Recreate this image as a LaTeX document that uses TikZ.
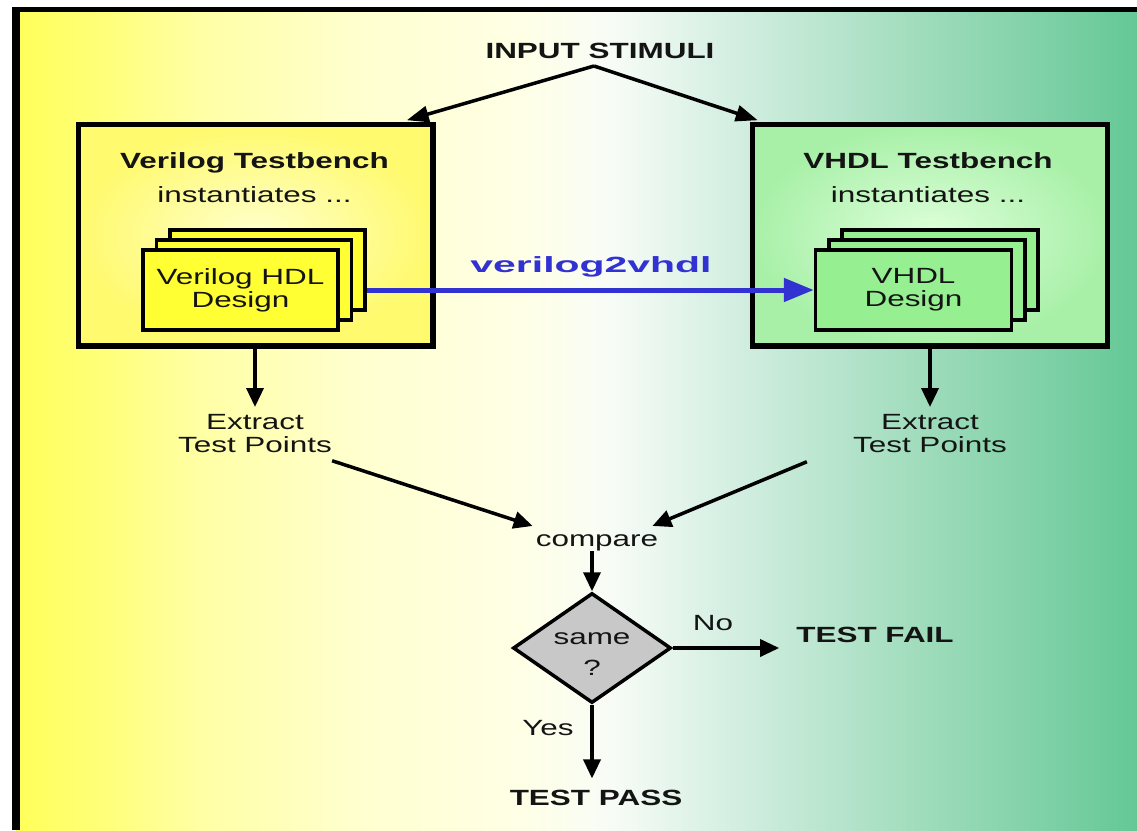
\documentclass[tikz,border=0pt]{standalone}
\usepackage{fontspec}
\setmainfont{Liberation Sans}[FakeStretch=1.43]
\newfontfamily\widefont{Liberation Sans}[FakeStretch=1.86]
\usetikzlibrary{arrows.meta,shapes.geometric}
\definecolor{ink}{RGB}{20,20,20}
\definecolor{bgA}{RGB}{255,255,90}
\definecolor{bgB}{RGB}{255,255,120}
\definecolor{bgC}{RGB}{255,255,165}
\definecolor{bgD}{RGB}{255,255,205}
\definecolor{bgE}{RGB}{255,255,230}
\definecolor{bgF}{RGB}{248,252,246}
\definecolor{bgG}{RGB}{215,240,228}
\definecolor{bgH}{RGB}{165,222,192}
\definecolor{bgI}{RGB}{125,208,165}
\definecolor{bgJ}{RGB}{100,200,150}
\definecolor{ylwIn}{RGB}{255,255,205}
\definecolor{ylwOut}{RGB}{255,250,110}
\definecolor{grnIn}{RGB}{222,255,218}
\definecolor{grnOut}{RGB}{168,240,168}
\definecolor{cardY}{RGB}{255,255,51}
\definecolor{cardG}{RGB}{150,240,145}
\definecolor{diaGray}{RGB}{200,200,200}
\definecolor{convBlue}{RGB}{50,50,210}
\pgfdeclarehorizontalshading{bgshade}{100bp}{color(0bp)=(bgA); color(25bp)=(bgA); color(28.75bp)=(bgB); color(33.21bp)=(bgC); color(39.9bp)=(bgD); color(47.48bp)=(bgE); color(51.49bp)=(bgF); color(56.4bp)=(bgG); color(64.43bp)=(bgH); color(71.12bp)=(bgI); color(75bp)=(bgJ); color(100bp)=(bgJ)}
\tikzset{
  txt/.style={inner sep=0pt, text=ink, font=\fontsize{22}{23}\selectfont},
  btxt/.style={inner sep=0pt, text=ink, font=\fontsize{22}{23}\selectfont\bfseries},
  tbox/.style={draw=black, line width=3.5pt, minimum width=353pt, minimum height=220pt, inner sep=0pt},
  cardbox/.style={draw=black, line width=3.5pt, minimum width=195pt, minimum height=80pt, inner sep=0pt},
  arr/.style={draw=black, line width=3.5pt, -{Triangle[length=19pt,width=17pt]}},
  barr/.style={draw=convBlue, line width=5pt, -{Triangle[length=30pt,width=23pt]}},
}
\begin{document}
\begin{tikzpicture}[x=1pt,y=-1pt]
\useasboundingbox (0,0) rectangle (1137,830);
\fill[white] (0,0) rectangle (1137,830);
\shade[shading=bgshade] (16,10) rectangle (1137,830);
\draw[line width=5pt] (12,9.5) -- (1137,9.5);
\draw[line width=8pt] (16,7) -- (16,830);

% testbench boxes
\node[tbox, inner color=ylwIn, outer color=ylwOut] (vtb) at (255.5,235) {};
\node[tbox, inner color=grnIn, outer color=grnOut] (htb) at (930,235) {};
\draw[line width=3.5pt] (vtb.north west) rectangle (vtb.south east);
\draw[line width=3.5pt] (htb.north west) rectangle (htb.south east);

\node[btxt, anchor=base] (vtbT) at (254.5,168) {Verilog Testbench};
\node[txt, anchor=base] (vtbI) at (254.5,202) {instantiates ...};
\node[btxt, anchor=base] (htbT) at (928,168) {VHDL Testbench};
\node[txt, anchor=base] (htbI) at (928,202) {instantiates ...};

% stacked cards
\node[cardbox, fill=cardY] (vc3) at (267.5,270) {};
\node[cardbox, fill=cardY] (vc2) at (254,280) {};
\node[cardbox, fill=cardY, align=center, txt] (vc1) at (240.5,290) {Verilog HDL\\Design};
\node[cardbox, fill=cardG, minimum width=196pt] (hc3) at (940,270) {};
\node[cardbox, fill=cardG, minimum width=196pt] (hc2) at (927,280) {};
\node[cardbox, fill=cardG, minimum width=196pt, align=center, txt] (hc1) at (913.5,290) {VHDL\\Design};

% conversion arrow
\draw[barr] (vc3.east |- vc1.east) -- (hc1.west);
\node[inner sep=0pt, text=convBlue, font=\widefont\fontsize{22}{23}\selectfont\bfseries, anchor=base] (v2v) at (591,272) {verilog2vhdl};

% input stimuli
\node[btxt, anchor=base] (stim) at (600,58) {INPUT STIMULI};
\coordinate (apex) at (594,66);
\draw[arr, -{Triangle[length=22pt,width=16pt]}] (apex) -- ([xshift=-27pt,yshift=3pt]vtb.north east);
\draw[arr, -{Triangle[length=22pt,width=16pt]}] (apex) -- ([xshift=6pt,yshift=3pt]htb.north west);

% extract
\node[txt, align=center, anchor=north] (exL) at (255,414) {Extract\\Test Points};
\node[txt, align=center, anchor=north] (exR) at (930,414) {Extract\\Test Points};
\draw[arr, shorten >=7pt] (vtb.south -| exL.north) -- (exL.north);
\draw[arr, shorten >=7pt] (htb.south -| exR.north) -- (exR.north);

% compare
\node[txt, anchor=base] (cmp) at (597,546) {compare};
\draw[arr] ([yshift=-8pt]exL.south east) -- ([xshift=-3pt,yshift=8pt]cmp.north west);
\draw[arr] ([xshift=-46pt,yshift=-9pt]exR.south west) -- ([xshift=-6pt,yshift=8pt]cmp.north east);

% decision
\node[diamond, draw=black, line width=3.5pt, fill=diaGray, minimum width=158pt, minimum height=110pt, inner sep=0pt] (dia) at (592,648) {};
\node[txt, anchor=base] (same) at (592,644) {same};
\node[txt, anchor=base] (qm) at (592,675) {?};
\draw[arr] (dia.north |- cmp.south) -- (dia.north);

\node[btxt, anchor=base] (fail) at (875,642) {TEST FAIL};
\node[txt, anchor=base] (no) at (713,630) {No};
\draw[arr, shorten >=17pt] (dia.east) -- (fail.west |- dia.east);

\node[btxt, anchor=base] (pass) at (596,805) {TEST PASS};
\node[txt, anchor=base] (yes) at (548,735) {Yes};
\draw[arr, shorten >=11pt] (dia.south) -- (dia.south |- pass.north);
\end{tikzpicture}
\end{document}
